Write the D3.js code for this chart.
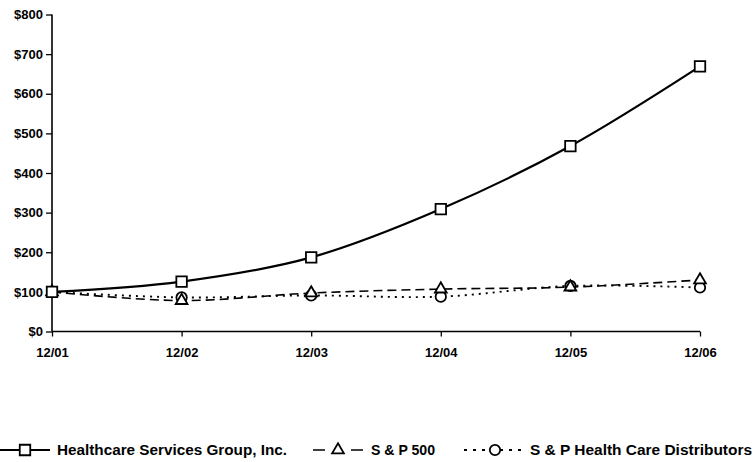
<!DOCTYPE html>
<html>
<head>
<meta charset="utf-8">
<script src="https://cdn.jsdelivr.net/npm/d3@7"></script>
<style>
  html, body { margin: 0; padding: 0; background: #fff; }
  svg text { font-family: "Liberation Sans", Arial, sans-serif; font-weight: bold; fill: #000; }
</style>
</head>
<body>
<div id="chart"></div>
<script>
// Cumulative total return chart
const periods = ["12/01", "12/02", "12/03", "12/04", "12/05", "12/06"];
const hcsg    = [100, 126, 187, 309, 468, 669];
const sp500   = [100, 78, 97, 107, 112, 130];
const spHcd   = [100, 86, 91, 88, 115, 111];
const yTicks  = [0, 100, 200, 300, 400, 500, 600, 700, 800];

const seriesNames = ["Healthcare Services Group, Inc.", "S & P 500", "S & P Health Care Distributors"];

const W = 754, H = 462;
const svg = d3.select("#chart").append("svg").attr("width", W).attr("height", H);

const x = d3.scalePoint().domain(periods).range([52, 700]);
const y = d3.scaleLinear().domain([0, 800]).range([331.5, 14.5]);

// axes
const yAxis = d3.axisLeft(y).tickValues(yTicks).tickSize(6).tickPadding(3).tickFormat(d => "$" + d);
const gy = svg.append("g").attr("transform", "translate(52,0)").call(yAxis);
const xAxis = d3.axisBottom(x).tickSize(5).tickPadding(11);
const gx = svg.append("g").attr("transform", "translate(0,331.5)").call(xAxis);

[gy, gx].forEach(g => {
  g.select(".domain").attr("stroke", "#000").attr("stroke-width", 1.6);
  g.selectAll(".tick line").attr("stroke", "#000").attr("stroke-width", 1.3);
  g.selectAll(".tick text").style("font-size", "13px").attr("fill", "#000");
});
gy.select(".domain").attr("d", "M0,14.5V331.5");
gx.select(".domain").attr("d", "M52,0H700");
gy.selectAll(".tick text").attr("x", -9);

const series = [
  { name: seriesNames[0], values: hcsg,  dash: null,  width: 2.2, marker: "square" },
  { name: seriesNames[1], values: sp500, dash: "9,5", width: 1.6, marker: "triangle" },
  { name: seriesNames[2], values: spHcd, dash: "2,5", width: 1.9, marker: "circle" },
];

const line = d3.line()
  .x((d, i) => x(periods[i]))
  .y(d => y(d))
  .curve(d3.curveCardinal.tension(0));

const symbolGen = {
  square: d3.symbol().type(d3.symbolSquare).size(110),
  triangle: d3.symbol().type(d3.symbolTriangle).size(60),
  circle: d3.symbol().type(d3.symbolCircle).size(85),
};

// draw lines (back to front)
series.slice().reverse().forEach(s => {
  svg.append("path")
    .datum(s.values)
    .attr("d", line)
    .attr("fill", "none")
    .attr("stroke", "#000")
    .attr("stroke-width", s.width)
    .attr("stroke-dasharray", s.dash);
});

// markers
series.slice().reverse().forEach(s => {
  svg.append("g").selectAll("path").data(s.values).join("path")
    .attr("d", symbolGen[s.marker])
    .attr("transform", (d, i) => `translate(${x(periods[i])},${y(d)})`)
    .attr("fill", "#fff")
    .attr("stroke", "#000")
    .attr("stroke-width", 1.8);
});

// legend
const ly = 450;
const legend = svg.append("g");
const legendItems = [
  { s: series[0], x0: 0,   x1: 50,  mx: 25,  tx: 57,  tw: 230, dash: null },
  { s: series[1], x0: 313, x1: 363, mx: 338, tx: 371, tw: 64,  dash: "12,26" },
  { s: series[2], x0: 464, x1: 526, mx: 495, tx: 530, tw: 222, dash: "3,6" },
];
legendItems.forEach(it => {
  legend.append("line")
    .attr("x1", it.x0).attr("x2", it.x1).attr("y1", ly).attr("y2", ly)
    .attr("stroke", "#000")
    .attr("stroke-width", it.s.width)
    .attr("stroke-dasharray", it.dash);
  legend.append("path")
    .attr("d", symbolGen[it.s.marker])
    .attr("transform", `translate(${it.mx},${ly})`)
    .attr("fill", "#fff").attr("stroke", "#000").attr("stroke-width", 1.8);
  legend.append("text")
    .attr("x", it.tx).attr("y", ly + 5)
    .attr("textLength", it.tw).attr("lengthAdjust", "spacingAndGlyphs")
    .style("font-size", "14px")
    .text(it.s.name);
});
</script>
</body>
</html>
